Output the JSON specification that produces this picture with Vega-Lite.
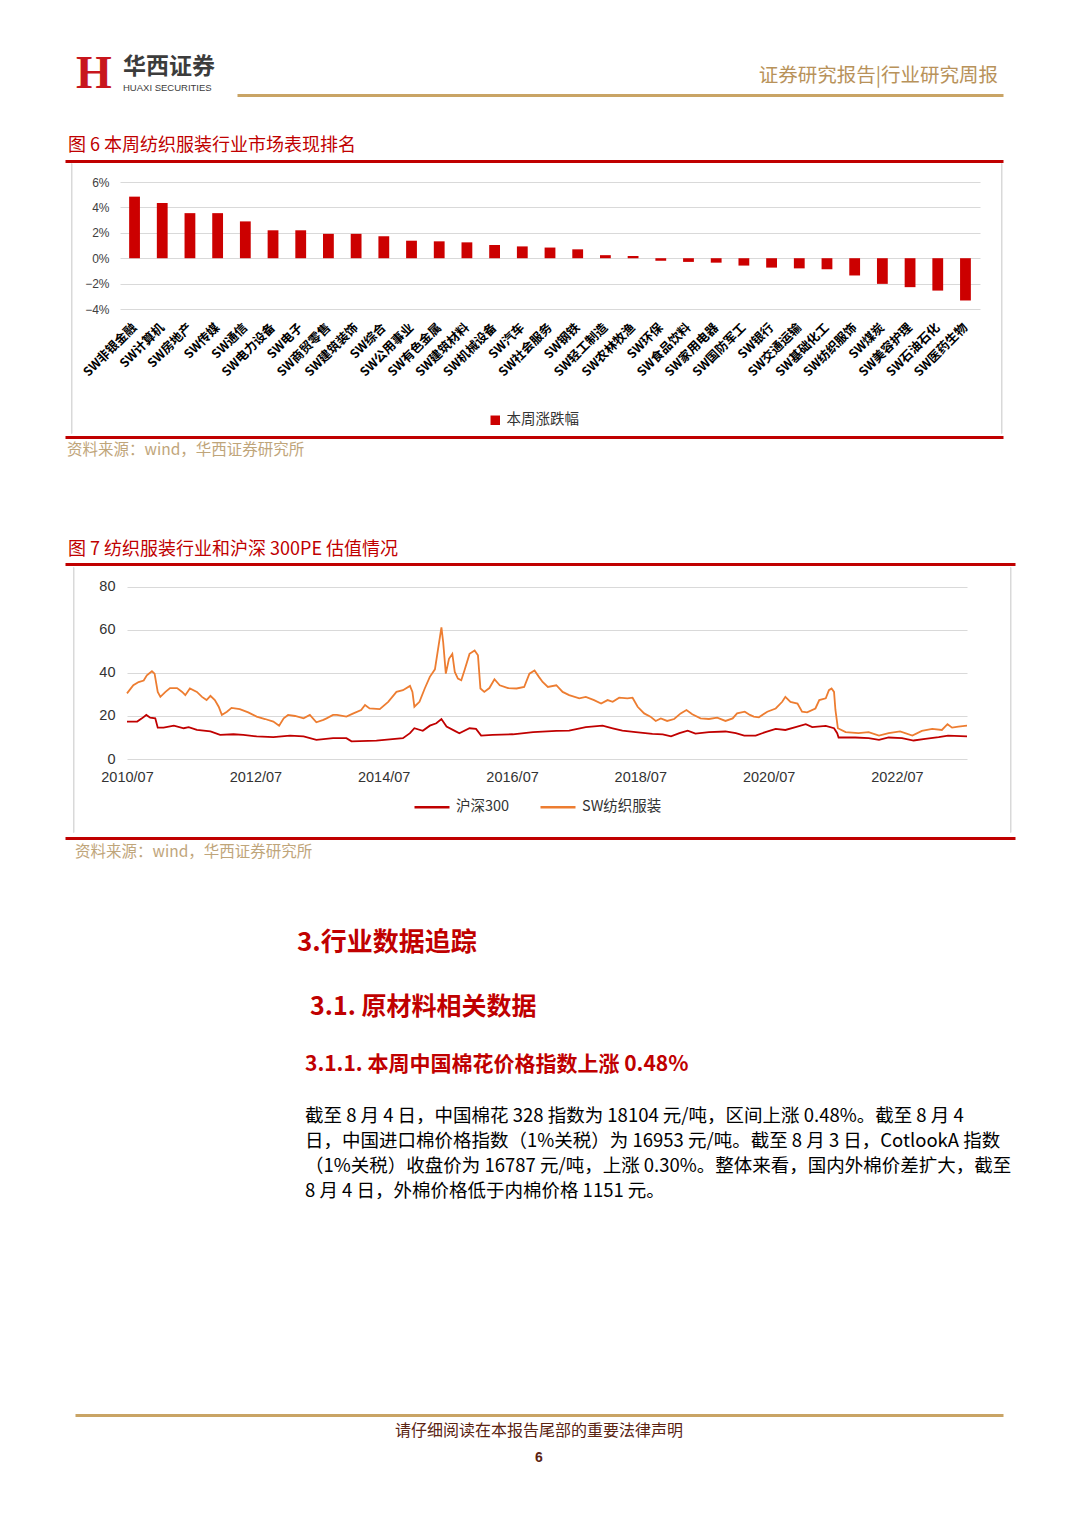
{
  "$schema": "https://vega.github.io/schema/vega-lite/v6.json",
  "background": "white",
  "padding": {"left": 65, "top": 51, "right": 10, "bottom": 10},
  "config": {
    "view": {"stroke": null},
    "font": "Noto Sans CJK SC",
    "concat": {"spacing": 0},
    "title": {"anchor": "start", "fontWeight": "normal", "frame": "bounds", "font": "Noto Sans CJK SC"},
    "legend": {"padding": 0}
  },
  "resolve": {"scale": {"color": "independent"}, "legend": {"color": "independent"}},
  "datasets": {
    "bars": [
      {"industry": "SW非银金融", "change": 4.85},
      {"industry": "SW计算机", "change": 4.35},
      {"industry": "SW房地产", "change": 3.55},
      {"industry": "SW传媒", "change": 3.55},
      {"industry": "SW通信", "change": 2.9},
      {"industry": "SW电力设备", "change": 2.2},
      {"industry": "SW电子", "change": 2.2},
      {"industry": "SW商贸零售", "change": 1.92},
      {"industry": "SW建筑装饰", "change": 1.92},
      {"industry": "SW综合", "change": 1.73},
      {"industry": "SW公用事业", "change": 1.38},
      {"industry": "SW有色金属", "change": 1.33},
      {"industry": "SW建筑材料", "change": 1.25},
      {"industry": "SW机械设备", "change": 1.04},
      {"industry": "SW汽车", "change": 0.93},
      {"industry": "SW社会服务", "change": 0.84},
      {"industry": "SW钢铁", "change": 0.7},
      {"industry": "SW轻工制造", "change": 0.24},
      {"industry": "SW农林牧渔", "change": 0.18},
      {"industry": "SW环保", "change": -0.2},
      {"industry": "SW食品饮料", "change": -0.29},
      {"industry": "SW家用电器", "change": -0.35},
      {"industry": "SW国防军工", "change": -0.58},
      {"industry": "SW银行", "change": -0.74},
      {"industry": "SW交通运输", "change": -0.8},
      {"industry": "SW基础化工", "change": -0.87},
      {"industry": "SW纺织服饰", "change": -1.36},
      {"industry": "SW煤炭", "change": -2.02},
      {"industry": "SW美容护理", "change": -2.28},
      {"industry": "SW石油石化", "change": -2.55},
      {"industry": "SW医药生物", "change": -3.33}
    ],
    "pe": [
      {"date": "2010/07/01", "series": "沪深300", "pe": 17.4},
      {"date": "2010/08/28", "series": "沪深300", "pe": 17.4},
      {"date": "2010/09/24", "series": "沪深300", "pe": 18.9},
      {"date": "2010/10/19", "series": "沪深300", "pe": 20.5},
      {"date": "2010/11/10", "series": "沪深300", "pe": 19.2},
      {"date": "2010/12/09", "series": "沪深300", "pe": 18.9},
      {"date": "2010/12/23", "series": "沪深300", "pe": 14.6},
      {"date": "2011/01/25", "series": "沪深300", "pe": 14.6},
      {"date": "2011/03/25", "series": "沪深300", "pe": 15.5},
      {"date": "2011/05/20", "series": "沪深300", "pe": 14.3},
      {"date": "2011/06/17", "series": "沪深300", "pe": 14.8},
      {"date": "2011/08/03", "series": "沪深300", "pe": 13.5},
      {"date": "2011/10/19", "series": "沪深300", "pe": 12.8},
      {"date": "2011/12/13", "series": "沪深300", "pe": 11.2},
      {"date": "2012/02/27", "series": "沪深300", "pe": 11.5},
      {"date": "2012/04/23", "series": "沪深300", "pe": 11.2},
      {"date": "2012/07/08", "series": "沪深300", "pe": 10.5},
      {"date": "2012/10/11", "series": "沪深300", "pe": 10.2},
      {"date": "2013/01/14", "series": "沪深300", "pe": 10.9},
      {"date": "2013/04/01", "series": "沪深300", "pe": 10.5},
      {"date": "2013/06/13", "series": "沪深300", "pe": 8.9},
      {"date": "2013/09/16", "series": "沪深300", "pe": 9.7},
      {"date": "2013/12/01", "series": "沪深300", "pe": 9.7},
      {"date": "2013/12/30", "series": "沪深300", "pe": 8.2},
      {"date": "2014/05/21", "series": "沪深300", "pe": 8.5},
      {"date": "2014/10/19", "series": "沪深300", "pe": 9.7},
      {"date": "2014/11/28", "series": "沪深300", "pe": 12.0},
      {"date": "2014/12/23", "series": "沪深300", "pe": 14.3},
      {"date": "2015/02/09", "series": "沪深300", "pe": 13.1},
      {"date": "2015/03/21", "series": "沪深300", "pe": 15.5},
      {"date": "2015/04/27", "series": "沪深300", "pe": 16.6},
      {"date": "2015/05/26", "series": "沪深300", "pe": 18.6},
      {"date": "2015/06/24", "series": "沪深300", "pe": 15.1},
      {"date": "2015/08/10", "series": "沪深300", "pe": 13.1},
      {"date": "2015/09/05", "series": "沪深300", "pe": 12.0},
      {"date": "2015/11/02", "series": "沪深300", "pe": 14.3},
      {"date": "2015/12/09", "series": "沪深300", "pe": 14.0},
      {"date": "2016/01/07", "series": "沪深300", "pe": 10.9},
      {"date": "2016/03/12", "series": "沪深300", "pe": 11.2},
      {"date": "2016/07/05", "series": "沪深300", "pe": 11.5},
      {"date": "2016/10/29", "series": "沪深300", "pe": 12.5},
      {"date": "2017/03/10", "series": "沪深300", "pe": 13.1},
      {"date": "2017/05/22", "series": "沪深300", "pe": 13.2},
      {"date": "2017/08/25", "series": "沪深300", "pe": 14.8},
      {"date": "2017/11/28", "series": "沪深300", "pe": 15.5},
      {"date": "2018/01/25", "series": "沪深300", "pe": 14.3},
      {"date": "2018/03/21", "series": "沪深300", "pe": 13.2},
      {"date": "2018/06/05", "series": "沪深300", "pe": 12.5},
      {"date": "2018/09/08", "series": "沪深300", "pe": 11.7},
      {"date": "2018/11/06", "series": "沪深300", "pe": 11.5},
      {"date": "2018/12/23", "series": "沪深300", "pe": 10.5},
      {"date": "2019/02/09", "series": "沪深300", "pe": 12.0},
      {"date": "2019/03/28", "series": "沪深300", "pe": 13.2},
      {"date": "2019/05/11", "series": "沪深300", "pe": 11.8},
      {"date": "2019/07/27", "series": "沪深300", "pe": 12.5},
      {"date": "2019/10/29", "series": "沪深300", "pe": 12.8},
      {"date": "2019/12/27", "series": "沪深300", "pe": 12.0},
      {"date": "2020/02/13", "series": "沪深300", "pe": 10.9},
      {"date": "2020/04/18", "series": "沪深300", "pe": 10.9},
      {"date": "2020/06/12", "series": "沪深300", "pe": 12.5},
      {"date": "2020/08/10", "series": "沪深300", "pe": 14.0},
      {"date": "2020/10/04", "series": "沪深300", "pe": 13.5},
      {"date": "2020/12/01", "series": "沪深300", "pe": 14.8},
      {"date": "2021/01/28", "series": "沪深300", "pe": 16.2},
      {"date": "2021/03/06", "series": "沪深300", "pe": 14.8},
      {"date": "2021/05/22", "series": "沪深300", "pe": 15.4},
      {"date": "2021/07/08", "series": "沪深300", "pe": 14.3},
      {"date": "2021/07/26", "series": "沪深300", "pe": 12.0},
      {"date": "2021/08/03", "series": "沪深300", "pe": 10.0},
      {"date": "2021/11/06", "series": "沪深300", "pe": 10.0},
      {"date": "2022/01/21", "series": "沪深300", "pe": 9.7},
      {"date": "2022/03/21", "series": "沪深300", "pe": 8.9},
      {"date": "2022/05/15", "series": "沪深300", "pe": 10.0},
      {"date": "2022/07/30", "series": "沪深300", "pe": 9.7},
      {"date": "2022/10/04", "series": "沪深300", "pe": 8.6},
      {"date": "2022/12/09", "series": "沪深300", "pe": 9.4},
      {"date": "2023/02/24", "series": "沪深300", "pe": 10.2},
      {"date": "2023/04/18", "series": "沪深300", "pe": 10.9},
      {"date": "2023/08/04", "series": "沪深300", "pe": 10.5},
      {"date": "2010/07/01", "series": "SW纺织服装", "pe": 30.5},
      {"date": "2010/08/06", "series": "SW纺织服装", "pe": 34.3},
      {"date": "2010/09/05", "series": "SW纺织服装", "pe": 35.8},
      {"date": "2010/10/04", "series": "SW纺织服装", "pe": 36.5},
      {"date": "2010/10/22", "series": "SW纺织服装", "pe": 38.9},
      {"date": "2010/11/20", "series": "SW纺织服装", "pe": 40.8},
      {"date": "2010/12/05", "series": "SW纺织服装", "pe": 39.7},
      {"date": "2010/12/23", "series": "SW纺织服装", "pe": 31.2},
      {"date": "2011/01/07", "series": "SW纺织服装", "pe": 28.9},
      {"date": "2011/02/05", "series": "SW纺织服装", "pe": 31.2},
      {"date": "2011/03/03", "series": "SW纺织服装", "pe": 33.0},
      {"date": "2011/04/12", "series": "SW纺织服装", "pe": 33.0},
      {"date": "2011/05/11", "series": "SW纺织服装", "pe": 31.2},
      {"date": "2011/05/29", "series": "SW纺织服装", "pe": 29.7},
      {"date": "2011/06/24", "series": "SW纺织服装", "pe": 32.8},
      {"date": "2011/08/03", "series": "SW纺织服装", "pe": 31.2},
      {"date": "2011/09/01", "series": "SW纺织服装", "pe": 28.9},
      {"date": "2011/09/27", "series": "SW纺织服装", "pe": 27.4},
      {"date": "2011/10/19", "series": "SW纺织服装", "pe": 29.4},
      {"date": "2011/11/13", "series": "SW纺织服装", "pe": 27.4},
      {"date": "2011/12/05", "series": "SW纺织服装", "pe": 24.3},
      {"date": "2011/12/23", "series": "SW纺织服装", "pe": 20.5},
      {"date": "2012/01/21", "series": "SW纺织服装", "pe": 22.0},
      {"date": "2012/02/16", "series": "SW纺织服装", "pe": 23.8},
      {"date": "2012/04/03", "series": "SW纺织服装", "pe": 23.2},
      {"date": "2012/05/21", "series": "SW纺织服装", "pe": 21.7},
      {"date": "2012/07/08", "series": "SW纺织服装", "pe": 19.7},
      {"date": "2012/08/25", "series": "SW纺织服装", "pe": 18.6},
      {"date": "2012/10/11", "series": "SW纺织服装", "pe": 17.4},
      {"date": "2012/11/13", "series": "SW纺织服装", "pe": 15.5},
      {"date": "2012/12/09", "series": "SW纺织服装", "pe": 18.9},
      {"date": "2013/01/03", "series": "SW纺织服装", "pe": 20.5},
      {"date": "2013/02/12", "series": "SW纺织服装", "pe": 20.0},
      {"date": "2013/04/01", "series": "SW纺织服装", "pe": 18.9},
      {"date": "2013/05/07", "series": "SW纺织服装", "pe": 20.5},
      {"date": "2013/06/13", "series": "SW纺织服装", "pe": 17.1},
      {"date": "2013/07/23", "series": "SW纺织服装", "pe": 18.2},
      {"date": "2013/08/10", "series": "SW纺织服装", "pe": 18.9},
      {"date": "2013/09/16", "series": "SW纺织服装", "pe": 20.5},
      {"date": "2013/10/08", "series": "SW纺织服装", "pe": 20.5},
      {"date": "2013/12/01", "series": "SW纺织服装", "pe": 19.7},
      {"date": "2014/01/10", "series": "SW纺织服装", "pe": 21.2},
      {"date": "2014/02/23", "series": "SW纺织服装", "pe": 22.8},
      {"date": "2014/03/17", "series": "SW纺织服装", "pe": 25.1},
      {"date": "2014/04/12", "series": "SW纺织服装", "pe": 23.5},
      {"date": "2014/06/09", "series": "SW纺织服装", "pe": 23.2},
      {"date": "2014/07/27", "series": "SW纺织服装", "pe": 26.6},
      {"date": "2014/09/12", "series": "SW纺织服装", "pe": 31.2},
      {"date": "2014/10/19", "series": "SW纺织服装", "pe": 32.0},
      {"date": "2014/11/28", "series": "SW纺织服装", "pe": 34.0},
      {"date": "2014/12/12", "series": "SW纺织服装", "pe": 31.2},
      {"date": "2014/12/23", "series": "SW纺织服装", "pe": 24.3},
      {"date": "2015/01/21", "series": "SW纺织服装", "pe": 26.6},
      {"date": "2015/02/20", "series": "SW纺织服装", "pe": 32.8},
      {"date": "2015/03/21", "series": "SW纺织服装", "pe": 38.2},
      {"date": "2015/04/19", "series": "SW纺织服装", "pe": 41.7},
      {"date": "2015/05/07", "series": "SW纺织服装", "pe": 51.2},
      {"date": "2015/05/26", "series": "SW纺织服装", "pe": 61.2},
      {"date": "2015/06/05", "series": "SW纺织服装", "pe": 54.3},
      {"date": "2015/06/20", "series": "SW纺织服装", "pe": 39.7},
      {"date": "2015/07/08", "series": "SW纺织服装", "pe": 46.6},
      {"date": "2015/07/27", "series": "SW纺织服装", "pe": 48.9},
      {"date": "2015/08/10", "series": "SW纺织服装", "pe": 40.5},
      {"date": "2015/08/28", "series": "SW纺织服装", "pe": 37.4},
      {"date": "2015/09/16", "series": "SW纺织服装", "pe": 36.6},
      {"date": "2015/10/04", "series": "SW纺织服装", "pe": 41.2},
      {"date": "2015/11/02", "series": "SW纺织服装", "pe": 48.9},
      {"date": "2015/12/01", "series": "SW纺织服装", "pe": 50.5},
      {"date": "2015/12/20", "series": "SW纺织服装", "pe": 48.2},
      {"date": "2016/01/03", "series": "SW纺织服装", "pe": 32.8},
      {"date": "2016/01/25", "series": "SW纺织服装", "pe": 31.2},
      {"date": "2016/02/23", "series": "SW纺织服装", "pe": 33.0},
      {"date": "2016/03/23", "series": "SW纺织服装", "pe": 37.1},
      {"date": "2016/04/22", "series": "SW纺织服装", "pe": 34.3},
      {"date": "2016/06/08", "series": "SW纺织服装", "pe": 33.0},
      {"date": "2016/07/27", "series": "SW纺织服装", "pe": 32.8},
      {"date": "2016/09/08", "series": "SW纺织服装", "pe": 33.5},
      {"date": "2016/10/08", "series": "SW纺织服装", "pe": 39.7},
      {"date": "2016/11/06", "series": "SW纺织服装", "pe": 41.2},
      {"date": "2016/12/01", "series": "SW纺织服装", "pe": 38.2},
      {"date": "2016/12/22", "series": "SW纺织服装", "pe": 35.8},
      {"date": "2017/01/21", "series": "SW纺织服装", "pe": 33.5},
      {"date": "2017/03/10", "series": "SW纺织服装", "pe": 34.3},
      {"date": "2017/04/15", "series": "SW纺织服装", "pe": 31.2},
      {"date": "2017/05/22", "series": "SW纺织服装", "pe": 29.7},
      {"date": "2017/07/19", "series": "SW纺织服装", "pe": 28.2},
      {"date": "2017/08/25", "series": "SW纺织服装", "pe": 28.9},
      {"date": "2017/10/11", "series": "SW纺织服装", "pe": 27.4},
      {"date": "2017/11/20", "series": "SW纺织服装", "pe": 25.8},
      {"date": "2017/12/27", "series": "SW纺织服装", "pe": 27.4},
      {"date": "2018/01/25", "series": "SW纺织服装", "pe": 26.6},
      {"date": "2018/03/03", "series": "SW纺织服装", "pe": 28.5},
      {"date": "2018/04/19", "series": "SW纺织服装", "pe": 28.2},
      {"date": "2018/05/18", "series": "SW纺织服装", "pe": 28.5},
      {"date": "2018/06/16", "series": "SW纺织服装", "pe": 24.3},
      {"date": "2018/07/23", "series": "SW纺织服装", "pe": 21.2},
      {"date": "2018/08/28", "series": "SW纺织服装", "pe": 19.7},
      {"date": "2018/09/27", "series": "SW纺织服装", "pe": 17.7},
      {"date": "2018/10/26", "series": "SW纺织服装", "pe": 18.9},
      {"date": "2018/12/01", "series": "SW纺织服装", "pe": 17.7},
      {"date": "2019/01/10", "series": "SW纺织服装", "pe": 18.6},
      {"date": "2019/02/16", "series": "SW纺织服装", "pe": 21.2},
      {"date": "2019/03/21", "series": "SW纺织服装", "pe": 22.8},
      {"date": "2019/04/23", "series": "SW纺织服装", "pe": 20.8},
      {"date": "2019/06/09", "series": "SW纺织服装", "pe": 18.9},
      {"date": "2019/07/27", "series": "SW纺织服装", "pe": 18.6},
      {"date": "2019/09/12", "series": "SW纺织服装", "pe": 19.2},
      {"date": "2019/10/29", "series": "SW纺织服装", "pe": 17.7},
      {"date": "2019/12/09", "series": "SW纺织服装", "pe": 18.9},
      {"date": "2020/01/03", "series": "SW纺织服装", "pe": 21.2},
      {"date": "2020/02/16", "series": "SW纺织服装", "pe": 22.0},
      {"date": "2020/03/16", "series": "SW纺织服装", "pe": 20.5},
      {"date": "2020/04/07", "series": "SW纺织服装", "pe": 19.7},
      {"date": "2020/05/06", "series": "SW纺织服装", "pe": 19.4},
      {"date": "2020/06/23", "series": "SW纺织服装", "pe": 22.0},
      {"date": "2020/08/10", "series": "SW纺织服装", "pe": 23.5},
      {"date": "2020/09/16", "series": "SW纺织服装", "pe": 26.6},
      {"date": "2020/10/04", "series": "SW纺织服装", "pe": 28.9},
      {"date": "2020/11/02", "series": "SW纺织服装", "pe": 26.6},
      {"date": "2020/12/12", "series": "SW纺织服装", "pe": 25.8},
      {"date": "2021/01/07", "series": "SW纺织服装", "pe": 22.0},
      {"date": "2021/02/05", "series": "SW纺织服装", "pe": 21.7},
      {"date": "2021/03/24", "series": "SW纺织服装", "pe": 23.5},
      {"date": "2021/04/15", "series": "SW纺织服装", "pe": 27.4},
      {"date": "2021/05/22", "series": "SW纺织服装", "pe": 28.2},
      {"date": "2021/06/09", "series": "SW纺织服装", "pe": 32.0},
      {"date": "2021/06/24", "series": "SW纺织服装", "pe": 32.8},
      {"date": "2021/07/08", "series": "SW纺织服装", "pe": 31.2},
      {"date": "2021/07/16", "series": "SW纺织服装", "pe": 22.8},
      {"date": "2021/07/30", "series": "SW纺织服装", "pe": 14.3},
      {"date": "2021/09/12", "series": "SW纺织服装", "pe": 12.5},
      {"date": "2021/11/24", "series": "SW纺织服装", "pe": 12.0},
      {"date": "2022/01/21", "series": "SW纺织服装", "pe": 12.5},
      {"date": "2022/03/21", "series": "SW纺织服装", "pe": 10.9},
      {"date": "2022/05/15", "series": "SW纺织服装", "pe": 12.0},
      {"date": "2022/07/19", "series": "SW纺织服装", "pe": 12.8},
      {"date": "2022/09/27", "series": "SW纺织服装", "pe": 10.9},
      {"date": "2022/11/20", "series": "SW纺织服装", "pe": 13.1},
      {"date": "2023/01/18", "series": "SW纺织服装", "pe": 14.0},
      {"date": "2023/03/14", "series": "SW纺织服装", "pe": 13.5},
      {"date": "2023/04/15", "series": "SW纺织服装", "pe": 16.2},
      {"date": "2023/05/11", "series": "SW纺织服装", "pe": 14.6},
      {"date": "2023/06/16", "series": "SW纺织服装", "pe": 15.1},
      {"date": "2023/08/04", "series": "SW纺织服装", "pe": 15.5}
    ]
  },
  "spacing": 0,
  "vconcat": [
    {
      "bounds": "flush",
      "spacing": 0,
      "hconcat": [
        {
          "width": 58, "height": 48,
          "title": {"text": "H", "anchor": "middle", "frame": "group", "font": "Liberation Serif", "fontSize": 46, "fontWeight": "bold", "color": "#c8161d", "offset": -9},
          "data": {"values": [{}]},
          "mark": {"type": "text", "text": "", "fontSize": 0}
        },
        {
          "width": 114, "height": 48,
          "title": {"text": "华西证券", "subtitle": "HUAXI SECURITIES", "anchor": "start", "frame": "group", "fontSize": 23, "fontWeight": "bold", "color": "#3c3c3c", "subtitleFont": "Liberation Sans", "subtitleFontSize": 9.5, "subtitleColor": "#3c3c3c", "subtitlePadding": 4, "offset": -3},
          "data": {"values": [{}]},
          "mark": {"type": "text", "text": "", "fontSize": 0}
        },
        {
          "width": 766, "height": 6,
          "title": {"text": "证券研究报告|行业研究周报", "anchor": "end", "frame": "group", "fontSize": 19.5, "color": "#b8925a", "offset": 3, "dx": -5},
          "data": {"values": [{}]},
          "mark": {"type": "text", "text": "", "fontSize": 0},
          "encoding": {
            "x": {"datum": 0, "type": "quantitative", "scale": {"domain": [0, 1]},
                  "axis": {"orient": "bottom", "domainColor": "#c9a465", "domainWidth": 3, "ticks": false, "labels": false, "grid": false, "title": null, "minExtent": 0, "maxExtent": 0}}
          }
        }
      ]
    },
    {
      "width": 938, "height": 0.1,
      "title": {"text": "图 6 本周纺织服装行业市场表现排名", "fontSize": 18, "color": "#c00000", "dx": 3, "offset": 6},
      "data": {"values": [{}]},
      "mark": {"type": "text", "text": "", "fontSize": 0},
      "encoding": {
        "x": {"datum": 0, "type": "quantitative", "scale": {"domain": [0, 1]},
              "axis": {"orient": "top", "domainColor": "#c00000", "domainWidth": 3, "ticks": false, "labels": false, "grid": false, "title": null, "minExtent": 0, "maxExtent": 0}}
      }
    },
    {
      "spacing": 0,
      "hconcat": [
        {
          "width": 5, "height": 1,
          "data": {"values": [{}]},
          "mark": {"type": "text", "text": "", "fontSize": 0}
        },
        {
          "width": 0.5, "height": 270,
          "view": {"stroke": "#d9d9d9", "strokeWidth": 1},
          "data": {"values": [{}]},
          "mark": {"type": "text", "text": "", "fontSize": 0}
        },
        {
          "width": 860, "height": 146,
          "data": {"name": "bars"},
          "mark": {"type": "bar"},
          "encoding": {
            "x": {"field": "industry", "type": "nominal", "sort": null,
                  "scale": {"paddingInner": 0.61, "paddingOuter": 0.33},
                  "axis": {"title": null, "labelAngle": -45, "labelAlign": "right", "labelBaseline": "middle", "labelFont": "Noto Sans CJK SC", "labelFontWeight": "bold", "labelFontSize": 12.5, "labelColor": "#000000", "labelPadding": 16, "ticks": false, "domain": false, "grid": false, "labelOverlap": false, "minExtent": 127.5, "maxExtent": 127.5}},
            "y": {"field": "change", "type": "quantitative",
                  "scale": {"domain": [-4, 7.5], "nice": false},
                  "axis": {"title": null, "values": [-4, -2, 0, 2, 4, 6], "format": "d", "labelExpr": "datum.label + '%'", "labelFont": "Liberation Sans", "labelFontSize": 12, "labelColor": "#404040", "labelPadding": 11, "ticks": false, "domain": false, "gridColor": "#d9d9d9", "minExtent": 47.5, "maxExtent": 47.5}},
            "color": {"datum": "本周涨跌幅", "type": "nominal", "scale": {"domain": ["本周涨跌幅"], "range": ["#cc0000"]},
                      "legend": {"orient": "none", "legendX": 423, "legendY": 250, "title": null, "symbolType": "square", "symbolSize": 90, "symbolStrokeWidth": 0, "labelFontSize": 14.5, "labelColor": "#333333", "labelFont": "Noto Sans CJK SC", "labelOffset": 4}}
          }
        },
        {
          "width": 20, "height": 1,
          "data": {"values": [{}]},
          "mark": {"type": "text", "text": "", "fontSize": 0}
        },
        {
          "width": 0.5, "height": 270,
          "view": {"stroke": "#d9d9d9", "strokeWidth": 1},
          "data": {"values": [{}]},
          "mark": {"type": "text", "text": "", "fontSize": 0}
        }
      ]
    },
    {
      "width": 938, "height": 1,
      "title": {"text": "资料来源：wind，华西证券研究所", "orient": "bottom", "fontSize": 15.5, "color": "#bfa57a", "dx": 2, "offset": 5},
      "data": {"values": [{}]},
      "mark": {"type": "text", "text": "", "fontSize": 0},
      "encoding": {
        "x": {"datum": 0, "type": "quantitative", "scale": {"domain": [0, 1]},
              "axis": {"orient": "top", "domainColor": "#c00000", "domainWidth": 3, "ticks": false, "labels": false, "grid": false, "title": null, "minExtent": 0, "maxExtent": 0}}
      }
    },
    {
      "width": 10, "height": 82,
      "data": {"values": [{}]},
      "mark": {"type": "text", "text": "", "fontSize": 0}
    },
    {
      "width": 950, "height": 1.5,
      "title": {"text": "图 7 纺织服装行业和沪深 300PE 估值情况", "fontSize": 18, "color": "#c00000", "dx": 3, "offset": 5},
      "data": {"values": [{}]},
      "mark": {"type": "text", "text": "", "fontSize": 0},
      "encoding": {
        "x": {"datum": 0, "type": "quantitative", "scale": {"domain": [0, 1]},
              "axis": {"orient": "top", "domainColor": "#c00000", "domainWidth": 3, "ticks": false, "labels": false, "grid": false, "title": null, "minExtent": 0, "maxExtent": 0}}
      }
    },
    {
      "spacing": 0,
      "hconcat": [
        {
          "width": 7, "height": 1,
          "data": {"values": [{}]},
          "mark": {"type": "text", "text": "", "fontSize": 0}
        },
        {
          "width": 0.5, "height": 265,
          "view": {"stroke": "#d9d9d9", "strokeWidth": 1},
          "data": {"values": [{}]},
          "mark": {"type": "text", "text": "", "fontSize": 0}
        },
        {
          "width": 840, "height": 192,
          "data": {"name": "pe"},
          "mark": {"type": "line", "strokeWidth": 1.8},
          "encoding": {
            "x": {"field": "date", "type": "temporal",
                  "scale": {"domain": [{"year": 2010, "month": 7, "date": 1}, {"year": 2023, "month": 8, "date": 4}]},
                  "axis": {"title": null, "values": [{"year": 2010, "month": 7, "date": 1}, {"year": 2012, "month": 7, "date": 1}, {"year": 2014, "month": 7, "date": 1}, {"year": 2016, "month": 7, "date": 1}, {"year": 2018, "month": 7, "date": 1}, {"year": 2020, "month": 7, "date": 1}, {"year": 2022, "month": 7, "date": 1}],
                           "format": "%Y/%m", "labelFont": "Liberation Sans", "labelFontSize": 14.5, "labelColor": "#333333", "labelPadding": 11, "labelFlush": false, "ticks": false, "domain": false, "grid": false, "minExtent": 78.5, "maxExtent": 78.5}},
            "y": {"field": "pe", "type": "quantitative",
                  "scale": {"domain": [0, 89.3], "nice": false},
                  "axis": {"title": null, "values": [0, 20, 40, 60, 80], "labelFont": "Liberation Sans", "labelFontSize": 14.5, "labelColor": "#333333", "labelPadding": 12, "ticks": false, "domain": false, "gridColor": "#d9d9d9", "minExtent": 52.5, "maxExtent": 52.5}},
            "color": {"field": "series", "type": "nominal",
                      "scale": {"domain": ["沪深300", "SW纺织服装"], "range": ["#c00000", "#ed7d31"]},
                      "legend": {"orient": "none", "legendX": 348, "legendY": 221, "direction": "horizontal", "title": null, "symbolType": "stroke", "symbolSize": 1225, "symbolStrokeWidth": 2.5, "labelFontSize": 14.5, "labelColor": "#333333", "labelFont": "Noto Sans CJK SC", "labelOffset": 5, "columnPadding": 25}}
          }
        },
        {
          "width": 38, "height": 1,
          "data": {"values": [{}]},
          "mark": {"type": "text", "text": "", "fontSize": 0}
        },
        {
          "width": 0.5, "height": 265,
          "view": {"stroke": "#d9d9d9", "strokeWidth": 1},
          "data": {"values": [{}]},
          "mark": {"type": "text", "text": "", "fontSize": 0}
        }
      ]
    },
    {
      "width": 950, "height": 1,
      "title": {"text": "资料来源：wind，华西证券研究所", "orient": "bottom", "fontSize": 15.5, "color": "#bfa57a", "dx": 10, "offset": 6},
      "data": {"values": [{}]},
      "mark": {"type": "text", "text": "", "fontSize": 0},
      "encoding": {
        "x": {"datum": 0, "type": "quantitative", "scale": {"domain": [0, 1]},
              "axis": {"orient": "top", "domainColor": "#c00000", "domainWidth": 3, "ticks": false, "labels": false, "grid": false, "title": null, "minExtent": 0, "maxExtent": 0}}
      }
    },
    {
      "width": 10, "height": 69,
      "data": {"values": [{}]},
      "mark": {"type": "text", "text": "", "fontSize": 0}
    },
    {
      "width": 700, "height": 39,
      "title": {"text": "3.行业数据追踪", "fontSize": 26, "fontWeight": "bold", "color": "#c00000", "dx": 232, "offset": 0},
      "data": {"values": [{}]},
      "mark": {"type": "text", "text": "", "fontSize": 0}
    },
    {
      "width": 700, "height": 34,
      "title": {"text": "3.1. 原材料相关数据", "fontSize": 25, "fontWeight": "bold", "color": "#c00000", "dx": 245, "offset": 0},
      "data": {"values": [{}]},
      "mark": {"type": "text", "text": "", "fontSize": 0}
    },
    {
      "width": 700, "height": 31,
      "title": {"text": "3.1.1. 本周中国棉花价格指数上涨 0.48%", "fontSize": 21, "fontWeight": "bold", "color": "#c00000", "dx": 240, "offset": 0},
      "data": {"values": [{}]},
      "mark": {"type": "text", "text": "", "fontSize": 0}
    },
    {
      "width": 700, "height": 215,
      "title": {"text": ["　　截至 8 月 4 日，中国棉花 328 指数为 18104 元/吨，区间上涨 0.48%。截至 8 月 4", "日，中国进口棉价格指数（1%关税）为 16953 元/吨。截至 8 月 3 日，CotlookA 指数", "（1%关税）收盘价为 16787 元/吨，上涨 0.30%。整体来看，国内外棉价差扩大，截至", "8 月 4 日，外棉价格低于内棉价格 1151 元。"], "fontSize": 18.5, "lineHeight": 25, "color": "#000000", "dx": 240, "offset": 0},
      "data": {"values": [{}]},
      "mark": {"type": "text", "text": "", "fontSize": 0}
    },
    {
      "spacing": 0,
      "hconcat": [
        {
          "width": 1, "height": 1,
          "data": {"values": [{}]},
          "mark": {"type": "text", "text": "", "fontSize": 0}
        },
        {
          "width": 928, "height": 1,
          "title": {"text": "请仔细阅读在本报告尾部的重要法律声明", "subtitle": "6", "orient": "bottom", "anchor": "middle", "frame": "group", "fontSize": 16, "color": "#5b2412", "subtitleFont": "Liberation Sans", "subtitleFontSize": 14, "subtitleFontWeight": "bold", "subtitleColor": "#5b2412", "subtitlePadding": 12, "offset": 7},
          "data": {"values": [{}]},
          "mark": {"type": "text", "text": "", "fontSize": 0},
          "encoding": {
            "x": {"datum": 0, "type": "quantitative", "scale": {"domain": [0, 1]},
                  "axis": {"orient": "top", "domainColor": "#c9a465", "domainWidth": 3, "ticks": false, "labels": false, "grid": false, "title": null, "minExtent": 0, "maxExtent": 0}},
            "y": {"datum": 0, "type": "quantitative", "scale": {"domain": [0, 1]},
                  "axis": {"labels": false, "ticks": false, "domain": false, "grid": false, "title": null, "minExtent": 9, "maxExtent": 9}}
          }
        }
      ]
    }
  ]
}
